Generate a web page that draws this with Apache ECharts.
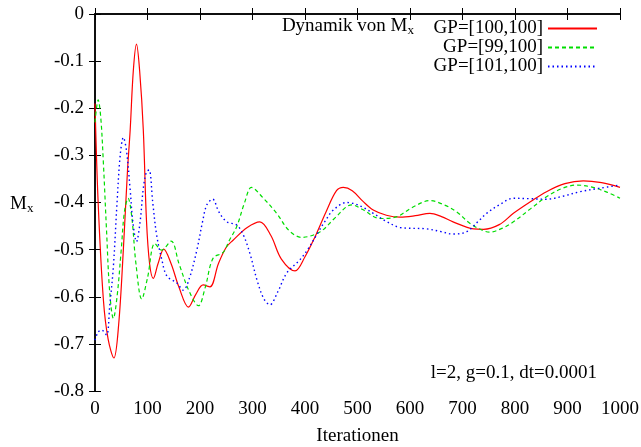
<!DOCTYPE html>
<html><head><meta charset="utf-8">
<script src="https://cdn.jsdelivr.net/npm/echarts@6/dist/echarts.min.js"></script>
<style>html,body{margin:0;padding:0;background:#fff}#c{width:641px;height:447px}</style>
</head><body><div id="c"></div>
<script>
var xTicks = [0,100,200,300,400,500,600,700,800,900,1000];
var yTicks = [0,-0.1,-0.2,-0.3,-0.4,-0.5,-0.6,-0.7,-0.8];
var seriesNames = ['GP=[100,100]','GP=[99,100]','GP=[101,100]'];

var redX = [0,6,16,25,36,45,54,62,67,73,79,85,92,98,104,111,120,131,145,160,178,192,206,219,235,250,263,290,314,335,355,381,400,419,440,460,473,490,510,530,555,581,610,638,660,682,721,740,770,797,830,860,895,930,965,1000];
var redY = [-0.19,-0.40,-0.607,-0.69,-0.73,-0.66,-0.50,-0.33,-0.246,-0.12,-0.064,-0.12,-0.246,-0.437,-0.53,-0.561,-0.53,-0.499,-0.53,-0.58,-0.622,-0.595,-0.575,-0.579,-0.53,-0.495,-0.48,-0.453,-0.441,-0.47,-0.52,-0.545,-0.515,-0.473,-0.42,-0.375,-0.368,-0.375,-0.397,-0.416,-0.427,-0.431,-0.428,-0.423,-0.43,-0.441,-0.456,-0.457,-0.447,-0.423,-0.398,-0.377,-0.360,-0.354,-0.358,-0.368];

var greenX = [0,6,11,16,22,28,35,42,50,56,63,70,78,89,100,114,127,145,160,180,197,210,225,244,256,270,285,298,320,346,370,394,429,455,479,489,510,543,575,605,638,665,689,715,740,752,775,797,830,860,890,917,945,975,1000];
var greenY = [-0.23,-0.182,-0.22,-0.317,-0.46,-0.59,-0.646,-0.60,-0.50,-0.42,-0.391,-0.43,-0.53,-0.605,-0.56,-0.487,-0.501,-0.482,-0.53,-0.59,-0.619,-0.58,-0.518,-0.506,-0.48,-0.451,-0.40,-0.368,-0.39,-0.423,-0.46,-0.474,-0.462,-0.435,-0.409,-0.405,-0.415,-0.434,-0.430,-0.41,-0.396,-0.405,-0.420,-0.445,-0.460,-0.463,-0.455,-0.441,-0.413,-0.388,-0.370,-0.363,-0.367,-0.378,-0.391];

var blueX = [0,6,13,22,28,35,42,48,54,60,67,72,79,86,92,98,103,110,117,127,137,156,168,180,194,205,213,224,236,251,270,283,295,310,322,333,348,365,390,405,422,438,454,479,492,510,530,555,581,632,660,682,708,730,746,770,797,830,860,890,924,960,1000];
var blueY = [-0.692,-0.675,-0.671,-0.681,-0.62,-0.536,-0.40,-0.30,-0.262,-0.29,-0.373,-0.44,-0.483,-0.44,-0.37,-0.335,-0.331,-0.40,-0.466,-0.52,-0.556,-0.571,-0.586,-0.56,-0.501,-0.44,-0.405,-0.393,-0.42,-0.441,-0.448,-0.47,-0.508,-0.57,-0.605,-0.617,-0.59,-0.550,-0.522,-0.50,-0.469,-0.44,-0.416,-0.400,-0.402,-0.41,-0.423,-0.44,-0.453,-0.456,-0.462,-0.467,-0.462,-0.44,-0.423,-0.405,-0.391,-0.392,-0.393,-0.387,-0.377,-0.370,-0.363];

function pairs(xs, ys){ return xs.map(function(x,i){return [x, ys[i]];}); }

var FONT = 'Liberation Serif';
var FS = 19;
var SUB = 13;
var chart = echarts.init(document.getElementById('c'), null, {renderer:'canvas'});
var axisLine = {show:true, lineStyle:{color:'#000', width:1.5}};
var tickStyle = {show:true, inside:true, length:6, lineStyle:{color:'#000', width:1}};
chart.setOption({
  animation:false,
  backgroundColor:'#fff',
  grid:{left:95, right:21, top:14, bottom:56, containLabel:false, outerBoundsMode:'none'},
  xAxis:[
    {type:'value', min:0, max:1000, interval:100, position:'bottom',
     axisLine:axisLine, axisTick:tickStyle, splitLine:{show:false},
     axisLabel:{color:'#000', fontFamily:FONT, fontSize:FS, margin:9, formatter:function(v){return String(v);}},
     name:'Iterationen', nameLocation:'middle', nameGap:36,
     nameTextStyle:{color:'#000', fontFamily:FONT, fontSize:FS}},
    {type:'value', min:0, max:1000, interval:100, position:'top',
     axisLine:axisLine, axisTick:tickStyle, splitLine:{show:false}, axisLabel:{show:false}}
  ],
  yAxis:[
    {type:'value', min:-0.8, max:0, interval:0.1, position:'left',
     axisLine:axisLine, axisTick:tickStyle, splitLine:{show:false},
     axisLabel:{color:'#000', fontFamily:FONT, fontSize:FS, margin:11,
       formatter:function(v){ var r=Math.round(v*10)/10; return r===0?'0':String(r);} }},
    {type:'value', min:-0.8, max:0, interval:0.1, position:'right',
     axisLine:axisLine, axisTick:tickStyle, splitLine:{show:false}, axisLabel:{show:false}}
  ],
  legend:{
    orient:'vertical', align:'right', right:43, top:19, padding:0,
    itemWidth:49, itemHeight:10, itemGap:0,
    itemStyle:{opacity:0},
    data:seriesNames,
    textStyle:{color:'#000', fontFamily:FONT, fontSize:FS, lineHeight:18}
  },
  graphic:[
    {type:'text', right:227, top:17, style:{
      text:'{m|Dynamik von M}{s|x}', fill:'#000',
      rich:{m:{fontFamily:FONT, fontSize:FS, fill:'#000'}, s:{fontFamily:FONT, fontSize:SUB, fill:'#000', padding:[9,0,0,0]}}}},
    {type:'text', left:10, top:195, style:{
      text:'{m|M}{s|x}', fill:'#000',
      rich:{m:{fontFamily:FONT, fontSize:FS, fill:'#000'}, s:{fontFamily:FONT, fontSize:SUB, fill:'#000', padding:[9,0,0,0]}}}},
    {type:'text', right:44, top:364, style:{
      text:'l=2, g=0.1, dt=0.0001', fill:'#000', font:FS+'px "'+FONT+'"'}}
  ],
  series:[
    {name:seriesNames[0], type:'line', data:pairs(redX, redY), smooth:0.35, symbol:'none',
     lineStyle:{color:'#ff0000', width:1.2, type:'solid'}, itemStyle:{color:'#ff0000'}},
    {name:seriesNames[1], type:'line', data:pairs(greenX, greenY), smooth:0.35, symbol:'none',
     lineStyle:{color:'#00dd00', width:1.2, type:[4,3]}, itemStyle:{color:'#00dd00'}},
    {name:seriesNames[2], type:'line', data:pairs(blueX, blueY), smooth:0.35, symbol:'none',
     lineStyle:{color:'#0000ff', width:1.4, type:[1.5,3]}, itemStyle:{color:'#0000ff'}}
  ]
});
</script></body></html>
